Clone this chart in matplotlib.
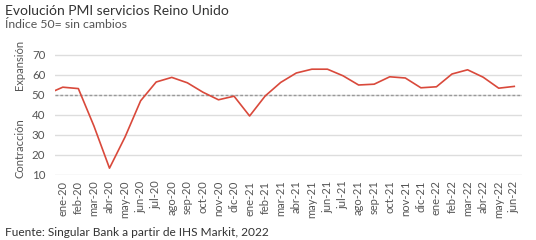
import matplotlib
matplotlib.use("Agg")
import matplotlib.pyplot as plt
import numpy as np

plt.rcParams['font.family'] = ['Lato', 'DejaVu Sans']

# meses (la serie arranca en dic-19, que queda recortado por el eje)
meses = ['ene-20', 'feb-20', 'mar-20', 'abr-20', 'may-20', 'jun-20', 'jul-20', 'ago-20',
         'sep-20', 'oct-20', 'nov-20', 'dic-20', 'ene-21', 'feb-21', 'mar-21', 'abr-21',
         'may-21', 'jun-21', 'jul-21', 'ago-21', 'sep-21', 'oct-21', 'nov-21', 'dic-21',
         'ene-22', 'feb-22', 'mar-22', 'abr-22', 'may-22', 'jun-22']
pmi_dic19 = 50.5
pmi = [53.9, 53.2, 34.5, 13.4, 29.0, 47.1, 56.5, 58.8, 56.1, 51.4, 47.6, 49.4,
       39.5, 49.5, 56.3, 61.0, 62.9, 62.9, 59.6, 55.0, 55.4, 59.1, 58.5, 53.6,
       54.1, 60.5, 62.6, 58.9, 53.4, 54.3]
yticks = [10, 20, 30, 40, 50, 60, 70]

rojo = '#d9493b'
gris_txt = '#555555'

fig = plt.figure(figsize=(5.36, 2.4), dpi=100)
ax = fig.add_axes([0.1026, 0.271, 0.8714, 0.5415])

x = np.arange(-1, len(meses))
y = [pmi_dic19] + pmi
ax.plot(x, y, color=rojo, lw=1.2, zorder=3)
ax.axhline(50, color='#999999', lw=1, ls=(0, (2, 1.5)), zorder=2)

ax.set_xlim(-0.5, len(meses) - 0.5)
ax.set_ylim(10, 75)
ax.set_yticks(yticks)
ax.set_xticks(np.arange(len(meses)))
ax.set_xticklabels(meses, rotation=90, fontsize=8, color=gris_txt)
ax.tick_params(axis='y', labelsize=8.3, labelcolor=gris_txt, length=0, pad=7)
ax.tick_params(axis='x', length=0, pad=4)
ax.grid(axis='y', color='#dddddd', lw=1, zorder=1)
for s in ax.spines.values():
    s.set_visible(False)

fig.text(20 / 536, 1 - 65 / 240, 'Expansión', rotation=90, ha='center', va='center',
         fontsize=8, color=gris_txt)
fig.text(20 / 536, 1 - 148 / 240, 'Contracción', rotation=90, ha='center', va='center',
         fontsize=8, color=gris_txt)

fig.text(5 / 536, 1 - 11 / 240, 'Evolución PMI servicios Reino Unido', ha='left', va='center',
         fontsize=10, color='#333333')
fig.text(5 / 536, 1 - 25 / 240, 'Índice 50= sin cambios', ha='left', va='center',
         fontsize=8.8, color=gris_txt)
fig.text(5 / 536, 1 - 232 / 240, 'Fuente: Singular Bank a partir de IHS Markit, 2022',
         ha='left', va='center', fontsize=8.6, color='#333333')

fig.savefig('out.png', dpi=100)
